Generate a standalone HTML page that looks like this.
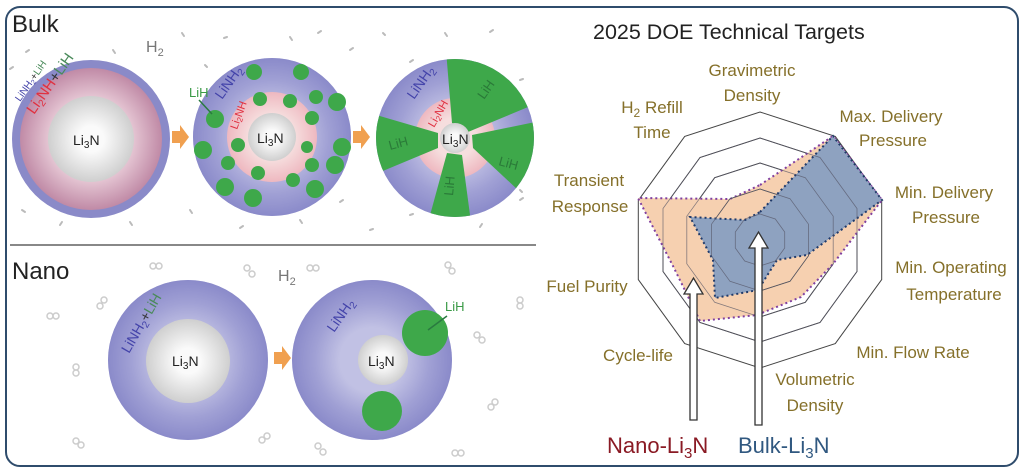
<!DOCTYPE html>
<html><head><meta charset="utf-8"><style>
html,body{margin:0;padding:0;background:#fff;width:1024px;height:474px;overflow:hidden}
svg{display:block}
text{font-family:"Liberation Sans",sans-serif}
.lab{fill:#85702a;font-size:17px}
</style></head><body>
<svg width="1024" height="474" viewBox="0 0 1024 474" xmlns="http://www.w3.org/2000/svg">
<defs>
<radialGradient id="blue" cx="50%" cy="50%" r="50%">
<stop offset="0.4" stop-color="#e2e2f2"/><stop offset="0.72" stop-color="#aaaad8"/><stop offset="1" stop-color="#8686c6"/></radialGradient>
<radialGradient id="pink" cx="50%" cy="50%" r="50%">
<stop offset="0.6" stop-color="#e4c4d2"/><stop offset="1" stop-color="#c08aa6"/></radialGradient>
<radialGradient id="pink2" cx="50%" cy="50%" r="50%">
<stop offset="0.5" stop-color="#f6dede"/><stop offset="1" stop-color="#eeb8c0"/></radialGradient>
<radialGradient id="white" cx="50%" cy="50%" r="50%">
<stop offset="0.3" stop-color="#fafafa"/><stop offset="1" stop-color="#cfcfcf"/></radialGradient>
<clipPath id="c3"><circle cx="455" cy="138" r="79"/></clipPath>
</defs>
<rect x="6" y="7" width="1012" height="459" rx="14" fill="#fff" stroke="#2f4c6c" stroke-width="2"/>
<line x1="10" y1="245" x2="536" y2="245" stroke="#888" stroke-width="2"/>

<text x="12" y="32" font-size="24" fill="#222">Bulk</text>
<text x="12" y="279" font-size="24" fill="#222">Nano</text>
<text x="146" y="52" font-size="16" fill="#777">H<tspan font-size="11" dy="4">2</tspan></text>
<text x="278" y="281" font-size="16" fill="#777">H<tspan font-size="11" dy="4">2</tspan></text>

<g stroke="#bbb" stroke-width="2" stroke-linecap="round">
<line x1="10" y1="69" x2="13" y2="67"/><line x1="26" y1="52" x2="29" y2="50"/><line x1="113" y1="50" x2="115" y2="53"/><line x1="182" y1="33" x2="184" y2="36"/><line x1="224" y1="38" x2="227" y2="37"/><line x1="205" y1="65" x2="207" y2="67"/><line x1="290" y1="37" x2="292" y2="40"/><line x1="318" y1="33" x2="321" y2="31"/><line x1="350" y1="50" x2="353" y2="48"/><line x1="383" y1="33" x2="385" y2="35"/><line x1="410" y1="62" x2="413" y2="60"/><line x1="445" y1="33" x2="447" y2="36"/><line x1="490" y1="32" x2="493" y2="30"/><line x1="520" y1="80" x2="523" y2="79"/><line x1="520" y1="200" x2="523" y2="198"/><line x1="22" y1="210" x2="25" y2="212"/><line x1="60" y1="225" x2="62" y2="222"/><line x1="130" y1="222" x2="132" y2="225"/><line x1="190" y1="210" x2="192" y2="213"/><line x1="240" y1="228" x2="243" y2="226"/><line x1="300" y1="220" x2="302" y2="223"/><line x1="340" y1="202" x2="343" y2="200"/><line x1="370" y1="230" x2="373" y2="229"/><line x1="410" y1="215" x2="413" y2="214"/><line x1="480" y1="227" x2="482" y2="224"/><line x1="520" y1="190" x2="522" y2="192"/>
</g>
<g fill="none" stroke="#ccc" stroke-width="1.5">
<circle cx="153" cy="266" r="3"/><circle cx="159" cy="266" r="3"/>
<circle cx="247" cy="268" r="3"/><circle cx="252" cy="274" r="3"/>
<circle cx="310" cy="268" r="3"/><circle cx="316" cy="268" r="3"/>
<circle cx="448" cy="265" r="3"/><circle cx="452" cy="271" r="3"/>
<circle cx="50" cy="316" r="3"/><circle cx="56" cy="316" r="3"/>
<circle cx="100" cy="306" r="3"/><circle cx="104" cy="300" r="3"/>
<circle cx="76" cy="367" r="3"/><circle cx="76" cy="373" r="3"/>
<circle cx="76" cy="441" r="3"/><circle cx="81" cy="445" r="3"/>
<circle cx="262" cy="440" r="3"/><circle cx="267" cy="436" r="3"/>
<circle cx="318" cy="446" r="3"/><circle cx="323" cy="452" r="3"/>
<circle cx="455" cy="453" r="3"/><circle cx="461" cy="453" r="3"/>
<circle cx="477" cy="335" r="3"/><circle cx="482" cy="340" r="3"/>
<circle cx="491" cy="407" r="3"/><circle cx="495" cy="402" r="3"/>
<circle cx="520" cy="300" r="3"/><circle cx="520" cy="306" r="3"/>
</g>

<circle cx="91" cy="139" r="79" fill="#8a8ac8"/>
<circle cx="91" cy="139" r="71" fill="url(#pink)"/>
<circle cx="91" cy="139" r="43" fill="url(#white)"/>
<text x="73" y="145" font-size="14" fill="#222">Li<tspan font-size="10" dy="3">3</tspan><tspan dy="-3">N</tspan></text>
<text transform="translate(34,115) rotate(-55)" font-size="15" fill="#e03040">Li<tspan font-size="10" dy="3">2</tspan><tspan dy="-3">NH</tspan><tspan fill="#333">+</tspan><tspan fill="#4a8a5a">LiH</tspan></text>
<text transform="translate(20,102) rotate(-55)" font-size="10" fill="#4444aa">LiNH<tspan font-size="7" dy="2">2</tspan><tspan dy="-2" fill="#333">+</tspan><tspan fill="#4a8a5a">LiH</tspan></text>

<polygon points="172,131 180,131 180,125 189,137 180,149 180,143 172,143" fill="#f0a050"/>
<polygon points="353,131 361,131 361,125 370,137 361,149 361,143 353,143" fill="#f0a050"/>
<polygon points="274,352 282,352 282,346 291,358 282,370 282,364 274,364" fill="#f0a050"/>

<circle cx="272" cy="137" r="79" fill="url(#blue)"/>
<circle cx="272" cy="137" r="79" fill="#9090d0" opacity="0.4"/>
<circle cx="272" cy="137" r="45" fill="url(#pink2)"/>
<circle cx="272" cy="137" r="24" fill="url(#white)"/>
<g fill="#3ea84a">
<circle cx="254" cy="72" r="8"/><circle cx="301" cy="72" r="8"/><circle cx="260" cy="99" r="7"/><circle cx="290" cy="101" r="7"/><circle cx="316" cy="97" r="7"/><circle cx="337" cy="102" r="9"/><circle cx="215" cy="119" r="9"/><circle cx="312" cy="118" r="7"/><circle cx="203" cy="150" r="9"/><circle cx="238" cy="145" r="7"/><circle cx="307" cy="147" r="6"/><circle cx="342" cy="147" r="9"/><circle cx="228" cy="163" r="7"/><circle cx="258" cy="173" r="7"/><circle cx="293" cy="180" r="7"/><circle cx="312" cy="165" r="7"/><circle cx="225" cy="187" r="9"/><circle cx="335" cy="165" r="9"/><circle cx="315" cy="189" r="9"/><circle cx="253" cy="198" r="9"/>
</g>
<text x="257" y="143" font-size="14" fill="#222">Li<tspan font-size="10" dy="3">3</tspan><tspan dy="-3">N</tspan></text>
<text transform="translate(222,100) rotate(-55)" font-size="14" fill="#4444aa">LiNH<tspan font-size="10" dy="3">2</tspan></text>
<text transform="translate(237,130) rotate(-70)" font-size="11" fill="#e03040">Li<tspan font-size="8" dy="2">2</tspan><tspan dy="-2">NH</tspan></text>
<text x="189" y="97" font-size="13" fill="#3a9a46">LiH</text>
<line x1="199" y1="100" x2="212" y2="114" stroke="#2a7a40" stroke-width="1.5"/>

<circle cx="455" cy="138" r="79" fill="url(#blue)"/>
<circle cx="455" cy="138" r="79" fill="#9090d0" opacity="0.4"/>
<circle cx="455" cy="138" r="40" fill="url(#pink2)"/>
<g clip-path="url(#c3)" fill="#3ea84a">
<polygon points="452,123 446,50 520,50 545,100 468,132"/>
<polygon points="472,135 545,120 540,200 518,190 473,148"/>
<polygon points="447,153 462,155 472,230 426,230"/>
<polygon points="366,112 438,133 438,148 366,178"/>
</g>
<circle cx="455" cy="138" r="15" fill="url(#white)"/>
<text x="442" y="144" font-size="14" fill="#222">Li<tspan font-size="10" dy="3">3</tspan><tspan dy="-3">N</tspan></text>
<text transform="translate(414,100) rotate(-55)" font-size="14" fill="#4444aa">LiNH<tspan font-size="10" dy="3">2</tspan></text>
<text transform="translate(434,128) rotate(-60)" font-size="11" fill="#e03040">Li<tspan font-size="8" dy="2">2</tspan><tspan dy="-2">NH</tspan></text>
<g font-size="13" fill="#2a7a38">
<text transform="translate(484,100) rotate(-55)">LiH</text>
<text transform="translate(390,150) rotate(-15)">LiH</text>
<text transform="translate(498,165) rotate(15)">LiH</text>
<text transform="translate(453,196) rotate(-85)">LiH</text>
</g>

<circle cx="188" cy="360" r="80" fill="url(#blue)"/>
<circle cx="188" cy="360" r="80" fill="#9090d0" opacity="0.4"/>
<circle cx="188" cy="361" r="42" fill="url(#white)"/>
<text x="172" y="366" font-size="14" fill="#222">Li<tspan font-size="10" dy="3">3</tspan><tspan dy="-3">N</tspan></text>
<text transform="translate(129,354) rotate(-60)" font-size="14" fill="#4444aa">LiNH<tspan font-size="10" dy="3">2</tspan><tspan dy="-3" fill="#333">+</tspan><tspan fill="#4a8a5a">LiH</tspan></text>

<circle cx="372" cy="360" r="80" fill="url(#blue)"/>
<circle cx="372" cy="360" r="80" fill="#9090d0" opacity="0.4"/>
<circle cx="383" cy="360" r="25" fill="url(#white)"/>
<circle cx="425" cy="333" r="23" fill="#3ea84a"/>
<circle cx="382" cy="411" r="20" fill="#3ea84a"/>
<text x="368" y="366" font-size="14" fill="#222">Li<tspan font-size="10" dy="3">3</tspan><tspan dy="-3">N</tspan></text>
<text transform="translate(334,333) rotate(-55)" font-size="14" fill="#4444aa">LiNH<tspan font-size="10" dy="3">2</tspan></text>
<text x="445" y="311" font-size="13" fill="#3a9a46">LiH</text>
<line x1="447" y1="316" x2="428" y2="330" stroke="#2a7a40" stroke-width="1.5"/>

<text x="593" y="39" font-size="21.5" fill="#222">2025 DOE Technical Targets</text>
<g transform="translate(760,240)">
<g fill="none" stroke="#444" stroke-width="1">
<polygon points="0,-128 75.3,-103.6 121.7,-39.6 121.7,39.6 75.3,103.6 0,128 -75.3,103.6 -121.7,39.6 -121.7,-39.6 -75.3,-103.6"/>
<polygon points="0,-102 60,-82.5 97,-31.5 97,31.5 60,82.5 0,102 -60,82.5 -97,31.5 -97,-31.5 -60,-82.5"/>
<polygon points="0,-77 45.3,-62.3 73.2,-23.8 73.2,23.8 45.3,62.3 0,77 -45.3,62.3 -73.2,23.8 -73.2,-23.8 -45.3,-62.3"/>
</g>
<polygon points="0,-55 73,-104 122,-40 73,24 41,57 -3,75 -60,81 -86,28 -122,-42 -30,-41" fill="#f6d0b0" stroke="#8040a0" stroke-width="2" stroke-dasharray="2,3"/>
<g fill="none" stroke="#555" stroke-width="0.8">
<polygon points="0,-51 30,-41.3 48.5,-15.8 48.5,15.8 30,41.3 0,51 -30,41.3 -48.5,15.8 -48.5,-15.8 -30,-41.3"/>
</g>
<polygon points="0,-28 73,-104 122,-40 47,15 17,20 -2,50 -45,58 -47,20 -70,-23 -15,-20" fill="#8ea2c0" stroke="#203a6a" stroke-width="2" stroke-dasharray="2,3"/>
<g fill="none" stroke="#556" stroke-width="0.8" opacity="0.7">
<polygon points="0,-102 60,-82.5 97,-31.5 97,31.5 60,82.5 0,102 -60,82.5 -97,31.5 -97,-31.5 -60,-82.5"/>
<polygon points="0,-77 45.3,-62.3 73.2,-23.8 73.2,23.8 45.3,62.3 0,77 -45.3,62.3 -73.2,23.8 -73.2,-23.8 -45.3,-62.3"/>
<polygon points="0,-51 30,-41.3 48.5,-15.8 48.5,15.8 30,41.3 0,51 -30,41.3 -48.5,15.8 -48.5,-15.8 -30,-41.3"/>
<polygon points="0,-26 15.3,-21 24.7,-8 24.7,8 15.3,21 0,26 -15.3,21 -24.7,8 -24.7,-8 -15.3,-21"/>
</g>
</g>
<polygon points="690,420 697,420 697,294 703,294 693.5,278 684,294 690,294" fill="#fff" stroke="#333" stroke-width="1.3"/>
<polygon points="755,425 762,425 762,248 768,248 758.5,232 749,248 755,248" fill="#fff" stroke="#333" stroke-width="1.3"/>

<g class="lab">
<text x="752" y="76" text-anchor="middle">Gravimetric</text>
<text x="752" y="101" text-anchor="middle">Density</text>
<text x="652" y="113" text-anchor="middle">H<tspan font-size="12" dy="4">2</tspan><tspan dy="-4"> Refill</tspan></text>
<text x="652" y="138" text-anchor="middle">Time</text>
<text x="891" y="122" text-anchor="middle">Max. Delivery</text>
<text x="893" y="146" text-anchor="middle">Pressure</text>
<text x="589" y="186" text-anchor="middle">Transient</text>
<text x="590" y="212" text-anchor="middle">Response</text>
<text x="944" y="198" text-anchor="middle">Min. Delivery</text>
<text x="946" y="223" text-anchor="middle">Pressure</text>
<text x="951" y="273" text-anchor="middle">Min. Operating</text>
<text x="954" y="300" text-anchor="middle">Temperature</text>
<text x="587" y="292" text-anchor="middle">Fuel Purity</text>
<text x="638" y="361" text-anchor="middle">Cycle-life</text>
<text x="913" y="358" text-anchor="middle">Min. Flow Rate</text>
<text x="815" y="385" text-anchor="middle">Volumetric</text>
<text x="815" y="411" text-anchor="middle">Density</text>
</g>
<text x="607" y="453" font-size="22" fill="#8a1a24">Nano-Li<tspan font-size="15" dy="5">3</tspan><tspan dy="-5">N</tspan></text>
<text x="738" y="453" font-size="22" fill="#305880">Bulk-Li<tspan font-size="15" dy="5">3</tspan><tspan dy="-5">N</tspan></text>
</svg>
</body></html>
